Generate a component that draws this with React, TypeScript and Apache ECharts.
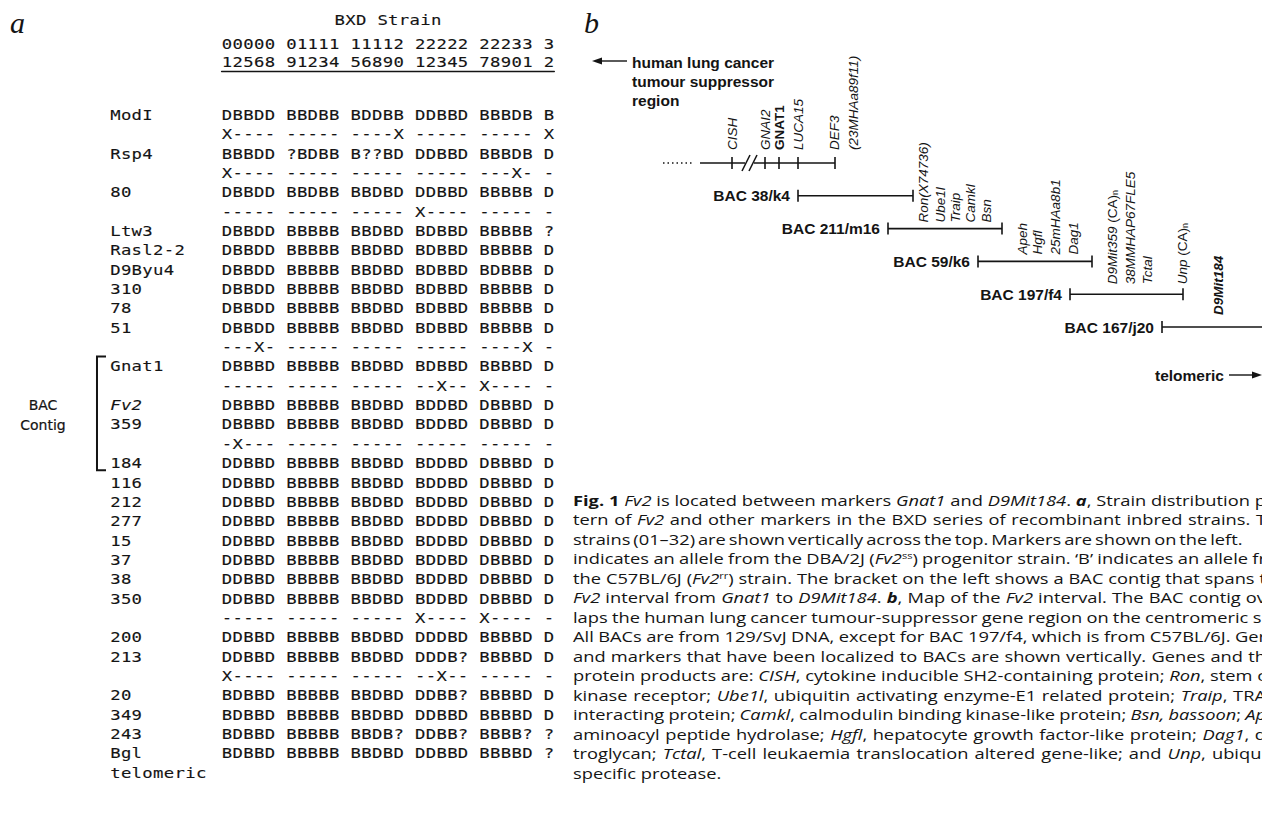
import React, { useEffect, useRef } from "react";
import * as echarts from "echarts";

// ---------- DATA ----------
const strainNumbers = ["01","02","05","06","08","09","11","12","13","14","15","16","18","19","20","21","22","23","24","25","27","28","29","30","31","32"];
const markerLabels = ["ModI","","Rsp4","","80","","Ltw3","Rasl2-2","D9Byu4","310","78","51","","Gnat1","","Fv2","359","","184","116","212","277","15","37","38","350","","200","213","","20","349","243","Bgl","telomeric"];
const genotypeRows = [
  "DBBDD BBDBB BDDBB DDBBD BBBDB B",
  "X---- ----- ----X ----- ----- X",
  "BBBDD ?BDBB B??BD DDBBD BBBDB D",
  "X---- ----- ----- ----- ---X- -",
  "DBBDD BBDBB BBDBD DDBBD BBBBB D",
  "----- ----- ----- X---- ----- -",
  "DBBDD BBBBB BBDBD BDBBD BBBBB ?",
  "DBBDD BBBBB BBDBD BDBBD BBBBB D",
  "DBBDD BBBBB BBDBD BDBBD BDBBB D",
  "DBBDD BBBBB BBDBD BDBBD BBBBB D",
  "DBBDD BBBBB BBDBD BDBBD BBBBB D",
  "DBBDD BBBBB BBDBD BDBBD BBBBB D",
  "---X- ----- ----- ----- ----X -",
  "DBBBD BBBBB BBDBD BDBBD BBBBD D",
  "----- ----- ----- --X-- X---- -",
  "DBBBD BBBBB BBDBD BDDBD DBBBD D",
  "DBBBD BBBBB BBDBD BDDBD DBBBD D",
  "-X--- ----- ----- ----- ----- -",
  "DDBBD BBBBB BBDBD BDDBD DBBBD D",
  "DDBBD BBBBB BBDBD BDDBD DBBBD D",
  "DDBBD BBBBB BBDBD BDDBD DBBBD D",
  "DDBBD BBBBB BBDBD BDDBD DBBBD D",
  "DDBBD BBBBB BBDBD BDDBD DBBBD D",
  "DDBBD BBBBB BBDBD BDDBD DBBBD D",
  "DDBBD BBBBB BBDBD BDDBD DBBBD D",
  "DDBBD BBBBB BBDBD BDDBD DBBBD D",
  "----- ----- ----- X---- X---- -",
  "DDBBD BBBBB BBDBD DDDBD BBBBD D",
  "DDBBD BBBBB BBDBD DDDB? BBBBD D",
  "X---- ----- ----- --X-- ----- -",
  "BDBBD BBBBB BBDBD DDBB? BBBBD D",
  "BDBBD BBBBB BBDBD DDBBD BBBBD D",
  "BDBBD BBBBB BBDB? DDBB? BBBB? ?",
  "BDBBD BBBBB BBDBD DDBBD BBBBD ?",
  "",
];
const contigSpan = [13, 18];
const contigLabel = ["BAC", "Contig"];
const tableTitle = "BXD Strain";

const mapRows = ["human", "BAC 38/k4", "BAC 211/m16", "BAC 59/k6", "BAC 197/f4", "BAC 167/j20"];
const bacStart = [238, 328, 418, 510, 602];
const bacEnd = [353, 442, 532, 623, 720];
const humanDotted = [103, 133];
const humanSolid = [140, 275];
const humanTicks = [172, 205, 219, 238, 275];
const breakMarks = [186, 193];
const geneNames = [
  "{i|CISH}", "{i|GNAI2}", "{b|GNAT1}", "{i|LUCA15}", "{i|DEF3}", "{i|(23MHAa89f11)}",
  "{i|Ron(X74736)}", "{i|Ube1l}", "{i|Traip}", "{i|Camkl}", "{i|Bsn}",
  "{i|Apeh}", "{i|Hgfl}", "{i|25mHAa8b1}", "{i|Dag1}",
  "{i|D9Mit359} (CA){s|n}", "{i|38MMHAP67FLE5}", "{i|Tctal}", "{i|Unp} (CA){s|n}",
  "{bi|D9Mit184}",
];
const genePos = [172, 205, 219, 238, 274, 293, 363, 380, 395, 410, 426, 462, 477, 495, 513, 552, 570, 587, 622, 658];
const geneRow = [0, 0, 0, 0, 0, 0, 2, 2, 2, 2, 2, 3, 3, 3, 3, 4, 4, 4, 4, 5];

const captionLines = [
  "{b|Fig. 1} {i|Fv2} is located between markers {i|Gnat1} and {i|D9Mit184}. {bi|a}, Strain distribution p",
  "tern of {i|Fv2} and other markers in the BXD series of recombinant inbred strains. T",
  "strains (01–32) are shown vertically across the top. Markers are shown on the left.",
  "indicates an allele from the DBA/2J ({i|Fv2}{sup|ss}) progenitor strain. ‘B’ indicates an allele fr",
  "the C57BL/6J ({i|Fv2}{sup|rr}) strain. The bracket on the left shows a BAC contig that spans t",
  "{i|Fv2} interval from {i|Gnat1} to {i|D9Mit184}. {bi|b}, Map of the {i|Fv2} interval. The BAC contig ov",
  "laps the human lung cancer tumour-suppressor gene region on the centromeric si",
  "All BACs are from 129/SvJ DNA, except for BAC 197/f4, which is from C57BL/6J. Ger",
  "and markers that have been localized to BACs are shown vertically. Genes and th",
  "protein products are: {i|CISH}, cytokine inducible SH2-containing protein; {i|Ron}, stem c",
  "kinase receptor; {i|Ube1l}, ubiquitin activating enzyme-E1 related protein; {i|Traip}, TRA",
  "interacting protein; {i|Camkl}, calmodulin binding kinase-like protein; {i|Bsn, bassoon}; {i|Ap}",
  "aminoacyl peptide hydrolase; {i|Hgfl}, hepatocyte growth factor-like protein; {i|Dag1}, d",
  "troglycan; {i|Tctal}, T-cell leukaemia translocation altered gene-like; and {i|Unp}, ubiqui",
  "specific protease.",
];
const lungLines = ["human lung cancer", "tumour suppressor", "region"];

// ---------- STYLE / LAYOUT ----------
const INK = "#141414";
const SANS = "'Liberation Sans', Arial, Helvetica, sans-serif";
const MONO = "'DejaVu Sans Mono', monospace";
const VERA = "'DejaVu Sans', sans-serif";
const SERIF = "'Liberation Serif', 'DejaVu Serif', serif";
const CAP = "'Open Sans', 'Noto Sans', sans-serif";
const CAP_SIZE = 15;
const CAP_SCALE = 1.22;
const CAP_X = 573;
const captionRight = [1266, 1266, 1241, 1266, 1266, 1266, 1266, 1266, 1266, 1266, 1266, 1266, 1266, 1266, 0];
const CELL_SIZE = 14;
const LABEL_OFFSET = 10.4;
const labelGap = [13, 0, 6, 7, 10, 12];

const COLS: string[] = [];
strainNumbers.forEach((s, i) => {
  if (i > 0 && i % 5 === 0) COLS.push("");
  COLS.push(s);
});

function cell(ch: string, x: number, y: number, pitch: number, extra: any = {}) {
  const adv = CELL_SIZE * 0.602;
  return {
    type: "text",
    x,
    y,
    scaleX: (pitch / adv) * 0.97,
    silent: true,
    style: {
      text: ch,
      fill: INK,
      stroke: INK,
      lineWidth: 0.12,
      fontSize: CELL_SIZE,
      fontFamily: MONO,
      align: "center",
      verticalAlign: "middle",
      textAlign: "center",
      textVerticalAlign: "middle",
      ...extra,
    },
  };
}

const capRich: any = {
  n: { fontSize: CAP_SIZE, fontFamily: CAP, fill: INK },
  b: { fontWeight: "bold", fontSize: CAP_SIZE, fontFamily: CAP, fill: INK },
  i: { fontStyle: "italic", fontSize: CAP_SIZE, fontFamily: CAP, fill: INK },
  bi: { fontStyle: "italic", fontWeight: "bold", fontSize: CAP_SIZE, fontFamily: CAP, fill: INK },
  sup: { fontSize: 9, fontFamily: CAP, fill: INK, verticalAlign: "top" },
};
const geneRich: any = {
  i: { fontStyle: "italic", fontSize: 13.5, fontFamily: SANS, fill: INK },
  b: { fontWeight: "bold", fontSize: 13.5, fontFamily: SANS, fill: INK },
  bi: { fontStyle: "italic", fontWeight: "bold", fontSize: 13.5, fontFamily: SANS, fill: INK },
  s: { fontSize: 9, fontFamily: SANS, fill: INK, verticalAlign: "bottom" },
};

let measureCtx: CanvasRenderingContext2D | null = null;
function measure(text: string, style: string) {
  if (!measureCtx) measureCtx = document.createElement("canvas").getContext("2d");
  const st = capRich[style] || capRich.n;
  measureCtx!.font = `${st.fontStyle || "normal"} ${st.fontWeight || "normal"} ${st.fontSize}px ${CAP}`;
  return measureCtx!.measureText(text).width;
}

// split a caption line into words, then spread the words to fill the column
function captionElements(line: string, right: number, y: number) {
  const segs: { s: string; t: string }[] = [];
  const re = /\{(\w+)\|([^}]*)\}|([^{]+)/g;
  let m: RegExpExecArray | null;
  while ((m = re.exec(line))) {
    if (m[1]) segs.push({ s: m[1], t: m[2] });
    else segs.push({ s: "n", t: m[3] });
  }
  const words: { s: string; t: string }[][] = [[]];
  segs.forEach((g) => {
    g.t.split(" ").forEach((p, k) => {
      if (k > 0) words.push([]);
      if (p) words[words.length - 1].push({ s: g.s, t: p });
    });
  });
  const ws = words.filter((w) => w.length > 0);
  const widths = ws.map((w) => w.reduce((a, p) => a + measure(p.t, p.s), 0) * CAP_SCALE);
  const natSp = measure(" ", "n") * CAP_SCALE;
  let gap = natSp;
  if (right > 0 && ws.length > 1) {
    const total = widths.reduce((a, b) => a + b, 0);
    gap = (right - CAP_X - total) / (ws.length - 1);
    gap = Math.max(natSp * 0.6, Math.min(natSp * 2.2, gap));
  }
  const out: any[] = [];
  let x = CAP_X;
  ws.forEach((w, i) => {
    const text = w.map((p) => (p.s === "n" ? p.t : `{${p.s}|${p.t}}`)).join("");
    out.push({
      type: "text",
      x,
      y,
      scaleX: CAP_SCALE,
      silent: true,
      style: {
        text,
        rich: capRich,
        fontSize: CAP_SIZE,
        fontFamily: CAP,
        fill: INK,
        verticalAlign: "middle",
        textVerticalAlign: "middle",
      },
    });
    x += widths[i] + gap;
  });
  return out;
}

function lineEl(x1: number, y1: number, x2: number, y2: number, extra: any = {}) {
  return {
    type: "line",
    silent: true,
    shape: { x1, y1, x2, y2 },
    style: { stroke: INK, lineWidth: 1.6, ...extra },
  };
}

function boldLabel(text: string, x: number, y: number, align = "left") {
  return {
    type: "text",
    x,
    y,
    silent: true,
    style: { text, fontSize: 15.5, fontWeight: "bold", fontFamily: SANS, fill: INK, align, textAlign: align, verticalAlign: "middle", textVerticalAlign: "middle" },
  };
}

function buildOption() {
  const graphic: any[] = [];
  graphic.push({ type: "text", x: 10, y: 22, style: { text: "a", fontSize: 30, fontStyle: "italic", fontFamily: SERIF, fill: INK, verticalAlign: "middle", textVerticalAlign: "middle" } });
  graphic.push({ type: "text", x: 584, y: 22, style: { text: "b", fontSize: 30, fontStyle: "italic", fontFamily: SERIF, fill: INK, verticalAlign: "middle", textVerticalAlign: "middle" } });
  lungLines.forEach((t, i) => graphic.push(boldLabel(t, 632, 62 + i * 19)));
  graphic.push({ type: "line", shape: { x1: 598, y1: 61, x2: 627, y2: 61 }, style: { stroke: INK, lineWidth: 1.4 } });
  graphic.push({ type: "polygon", shape: { points: [[592, 61], [602, 57.5], [602, 64.5]] }, style: { fill: INK } });
  graphic.push(boldLabel("telomeric", 1155, 375));
  graphic.push({ type: "line", shape: { x1: 1229, y1: 375, x2: 1254, y2: 375 }, style: { stroke: INK, lineWidth: 1.4 } });
  graphic.push({ type: "polygon", shape: { points: [[1262, 375], [1252, 371.5], [1252, 378.5]] }, style: { fill: INK } });
  captionLines.forEach((t, i) => {
    captionElements(t, captionRight[i], 500 + i * 19.5).forEach((e) => graphic.push(e));
  });

  return {
    animation: false,
    backgroundColor: "#ffffff",
    graphic,
    grid: [
      { left: 221.6, width: 332.7, top: 105.3, height: 677.25 },
      { left: 221.6, width: 332.7, top: 34.5, height: 37 },
      { left: 560, width: 702, top: 146.6, height: 196.8 },
    ],
    xAxis: [
      { type: "category", gridIndex: 0, data: COLS.map((_, i) => String(i)), show: false },
      {
        type: "category",
        gridIndex: 1,
        data: COLS.map((_, i) => String(i)),
        axisLine: { show: true, lineStyle: { color: INK, width: 1.4 } },
        axisTick: { show: false },
        axisLabel: { show: false },
        splitLine: { show: false },
      },
      { type: "value", gridIndex: 2, min: 0, max: 702, show: false },
    ],
    yAxis: [
      { type: "category", gridIndex: 0, data: markerLabels.map((_, i) => String(i)), inverse: true, show: false },
      { type: "category", gridIndex: 1, data: ["tens", "ones"], inverse: true, show: false },
      { type: "category", gridIndex: 2, data: mapRows, inverse: true, show: false },
    ],
    series: [
      {
        type: "custom",
        xAxisIndex: 0,
        yAxisIndex: 0,
        silent: true,
        data: markerLabels.map((_, i) => [0, i]),
        renderItem: (params: any, api: any) => {
          const r = api.value(1);
          const p0 = api.coord([0, r]);
          const pitch = api.size([1, 0])[0];
          const children: any[] = [];
          const g = genotypeRows[r];
          for (let j = 0; j < g.length; j++) {
            if (g[j] === " ") continue;
            const p = api.coord([j, r]);
            children.push(cell(g[j], p[0], p[1], pitch));
          }
          const label = markerLabels[r];
          const start = p0[0] - pitch / 2 - LABEL_OFFSET * pitch;
          const extra = label === "Fv2" ? { fontStyle: "italic" } : {};
          for (let k = 0; k < label.length; k++) {
            children.push(cell(label[k], start + (k + 0.5) * pitch, p0[1], pitch, extra));
          }
          return { type: "group", children };
        },
      },
      {
        type: "custom",
        xAxisIndex: 1,
        yAxisIndex: 1,
        silent: true,
        data: [[0, 0], [0, 1]],
        renderItem: (params: any, api: any) => {
          const r = api.value(1);
          const pitch = api.size([1, 0])[0];
          const children: any[] = [];
          for (let j = 0; j < COLS.length; j++) {
            if (!COLS[j]) continue;
            const p = api.coord([j, r]);
            children.push(cell(COLS[j][r], p[0], p[1], pitch));
          }
          if (r === 0) {
            const pc = api.coord([15, 0]);
            for (let k = 0; k < tableTitle.length; k++) {
              if (tableTitle[k] === " ") continue;
              children.push(cell(tableTitle[k], pc[0] + (k - (tableTitle.length - 1) / 2) * pitch, pc[1] - 24, pitch));
            }
          }
          return { type: "group", children };
        },
      },
      {
        type: "custom",
        xAxisIndex: 0,
        yAxisIndex: 0,
        silent: true,
        data: [[contigSpan[0], contigSpan[1]]],
        renderItem: (params: any, api: any) => {
          const r0 = api.value(0);
          const r1 = api.value(1);
          const pitch = api.size([1, 0])[0];
          const a = api.coord([0, r0]);
          const b = api.coord([0, r1]);
          const xb = a[0] - pitch / 2 - LABEL_OFFSET * pitch - 13;
          const yt = a[1] - 10;
          const yb = b[1] + 7;
          const mid1 = api.coord([0, r0 + 2]);
          const mid2 = api.coord([0, r0 + 3]);
          const lab = (t: string, y: number) => ({
            type: "text", x: 43, y, silent: true,
            style: { text: t, fontSize: 14, fontFamily: VERA, fill: INK, stroke: INK, lineWidth: 0.2, align: "center", textAlign: "center", verticalAlign: "middle", textVerticalAlign: "middle" },
          });
          return {
            type: "group",
            children: [
              { type: "polyline", silent: true, shape: { points: [[xb + 9, yt], [xb, yt], [xb, yb], [xb + 9, yb]] }, style: { stroke: INK, lineWidth: 2, fill: "none" } },
              lab(contigLabel[0], mid1[1]),
              lab(contigLabel[1], mid2[1]),
            ],
          };
        },
      },
      {
        type: "custom",
        xAxisIndex: 2,
        yAxisIndex: 2,
        silent: true,
        data: [[humanSolid[0], 0]],
        renderItem: (params: any, api: any) => {
          const y = api.coord([0, 0])[1];
          const X = (v: number) => api.coord([v, 0])[0];
          const children: any[] = [];
          children.push(lineEl(X(humanDotted[0]), y, X(humanDotted[1]), y, { lineDash: [1.5, 3], lineWidth: 1.4 }));
          children.push(lineEl(X(humanSolid[0]), y, X(humanSolid[1]), y));
          humanTicks.forEach((t) => children.push(lineEl(X(t), y - 6, X(t), y + 6)));
          children.push({ type: "rect", silent: true, shape: { x: X(breakMarks[0]) - 1, y: y - 2, width: X(breakMarks[1]) - X(breakMarks[0]) + 2, height: 4 }, style: { fill: "#fff" } });
          breakMarks.forEach((t) => children.push(lineEl(X(t) - 4, y + 8, X(t) + 4, y - 8, { lineWidth: 1.5 })));
          return { type: "group", children };
        },
      },
      {
        type: "custom",
        xAxisIndex: 2,
        yAxisIndex: 2,
        silent: true,
        data: bacStart.map((s, i) => [s, i + 1, bacEnd[i]]),
        renderItem: (params: any, api: any) => {
          const row = api.value(1);
          const a = api.coord([api.value(0), row]);
          const b = api.coord([api.value(2), row]);
          return {
            type: "group",
            children: [
              lineEl(a[0], a[1], b[0], b[1]),
              lineEl(a[0], a[1] - 6, a[0], a[1] + 6),
              lineEl(b[0], b[1] - 6, b[0], b[1] + 6),
              boldLabel(mapRows[row], a[0] - 8, a[1], "right"),
            ],
          };
        },
      },
      {
        type: "custom",
        xAxisIndex: 2,
        yAxisIndex: 2,
        silent: true,
        data: genePos.map((p, i) => [p, geneRow[i]]),
        renderItem: (params: any, api: any) => {
          const row = api.value(1);
          const p = api.coord([api.value(0), row]);
          return {
            type: "text",
            x: p[0],
            y: p[1] - labelGap[row],
            rotation: Math.PI / 2,
            silent: true,
            style: {
              text: geneNames[params.dataIndex],
              rich: geneRich,
              fontSize: 13.5,
              fontFamily: SANS,
              fill: INK,
              align: "left",
              textAlign: "left",
              verticalAlign: "middle",
              textVerticalAlign: "middle",
            },
          };
        },
      },
    ],
  };
}

export default function App() {
  const ref = useRef<HTMLDivElement>(null);
  useEffect(() => {
    if (!ref.current) return;
    const chart = echarts.init(ref.current, null, { renderer: "svg" });
    chart.setOption(buildOption() as any);
    return () => chart.dispose();
  }, []);
  return (
    <div
      ref={ref}
      style={{ position: "absolute", left: 0, top: 0, width: 1262, height: 814, background: "#fff" }}
    />
  );
}
